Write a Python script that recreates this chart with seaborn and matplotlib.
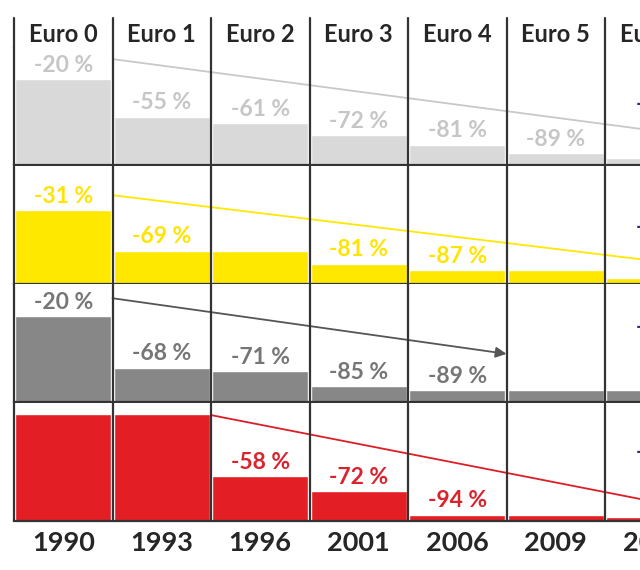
import matplotlib
matplotlib.use("Agg")
import matplotlib.pyplot as plt
import seaborn as sns

sns.set_style("white")
plt.rcParams['font.family'] = ['Lato', 'DejaVu Sans']

# norms and years
normen = ['Euro 0', 'Euro 1', 'Euro 2', 'Euro 3', 'Euro 4', 'Euro 5', 'Euro 6']
jahre = ['1990', '1993', '1996', '2001', '2006', '2009', '2014']

# change vs. baseline in % (one list per pollutant row)
row_grau = [-20, -55, -61, -72, -81, -89, -93]
row_gelb = [-31, -69, -69, -81, -87, -87, -94]
row_dunkel = [-20, -68, -71, -85, -89, -89, -89]
row_rot = [0, 0, -58, -72, -94, -94, -96]

# which columns carry a printed label
lab_grau = [True, True, True, True, True, True, False]
lab_gelb = [True, True, False, True, True, False, False]
lab_dunkel = [True, True, True, True, True, False, False]
lab_rot = [False, False, True, True, True, False, False]

# trend lines (start column, start level, end column, end level)
trend_grau = (0.5, 99, 6.5, 26)
trend_gelb = (0.5, 83, 6.5, 16)
trend_dunkel = (0.5, 97, 4.5, 45)
trend_rot = (1.5, 99, 6.5, 9)

# partly visible labels of the next column
rand_text = ['-93 %', '-94 %', '-89 %', '-96 %']
rand_hoehe = [57, 53, 70, 64]

rows = [
    (row_grau, lab_grau, '#d9d9d9', '#c6c6c6', '#c8c8c8', trend_grau, False),
    (row_gelb, lab_gelb, '#ffe800', '#ffe400', '#ffe800', trend_gelb, False),
    (row_dunkel, lab_dunkel, '#878787', '#767676', '#555555', trend_dunkel, True),
    (row_rot, lab_rot, '#e31e24', '#d9232d', '#dc1f26', trend_rot, False),
]

W, H = 640, 570
fig = plt.figure(figsize=(6.4, 5.7), dpi=100)
fig.patch.set_facecolor('white')

left = 14 / W
width = 626 / W
xlim = (-0.5, -0.5 + 626 / 98.5)
line_col = '#333333'
bounds = [-0.5, 0.5, 1.5, 2.5, 3.5, 4.5, 5.5]

# header
hax = fig.add_axes([left, 1 - 48 / H, width, 30 / H])
hax.set_xlim(xlim)
hax.set_ylim(0, 1)
hax.axis('off')
for i, n in enumerate(normen):
    hax.text(i, 0.45, n, ha='center', va='center', fontsize=17,
             fontweight='bold', color='#262626')
for b in bounds:
    hax.axvline(b, color=line_col, lw=1.6, clip_on=False)

baselines = [165, 284, 402, 521]
for k, (vals, labs, bar_c, txt_c, ln_c, trend, arrow) in enumerate(rows):
    ax = fig.add_axes([left, 1 - baselines[k] / H, width, 118 / H])
    rest = [100 + v for v in vals]
    sns.barplot(x=normen, y=rest, color=bar_c, saturation=1, width=0.97,
                ax=ax, zorder=1)
    for s in ['top', 'left', 'right']:
        ax.spines[s].set_visible(False)
    ax.spines['bottom'].set_color(line_col)
    ax.spines['bottom'].set_linewidth(1.6)
    ax.spines['bottom'].set_zorder(4)
    for b in bounds:
        ax.axvline(b, color=line_col, lw=1.6, clip_on=False, zorder=4)
    ax.set_xticks([])
    ax.set_yticks([])
    ax.set_xlabel('')
    ax.set_ylabel('')
    ax.set_xlim(xlim)
    ax.set_ylim(0, 110.3)

    for i, (v, r, show) in enumerate(zip(vals, rest, labs)):
        if show:
            ax.text(i, r + 13, f'{v} %', ha='center', va='center',
                    fontsize=16.5, fontweight='bold', color=txt_c, zorder=5)

    x0, y0, x1, y1 = trend
    if arrow:
        ax.annotate('', xy=(x1, y1), xytext=(x0, y0),
                    arrowprops=dict(arrowstyle='-|>', color=ln_c, lw=1.3,
                                    mutation_scale=16, shrinkA=0, shrinkB=0),
                    zorder=3)
    else:
        ax.plot([x0, x1], [y0, y1], color=ln_c, lw=1.3, zorder=3)

    ax.text(5.815, rand_hoehe[k], rand_text[k], ha='left', va='center',
            fontsize=16.5, fontweight='bold', color='#2e3180', clip_on=False)

    if k == 3:
        # years under the last row, the last one runs off the edge
        for i, j in enumerate(jahre):
            ax.text(i, -0.19, j, transform=ax.get_xaxis_transform(),
                    ha='center', va='center', fontsize=19.5, fontweight='bold',
                    color='#262626', clip_on=False)

fig.savefig('out.png', dpi=100, facecolor='white')
